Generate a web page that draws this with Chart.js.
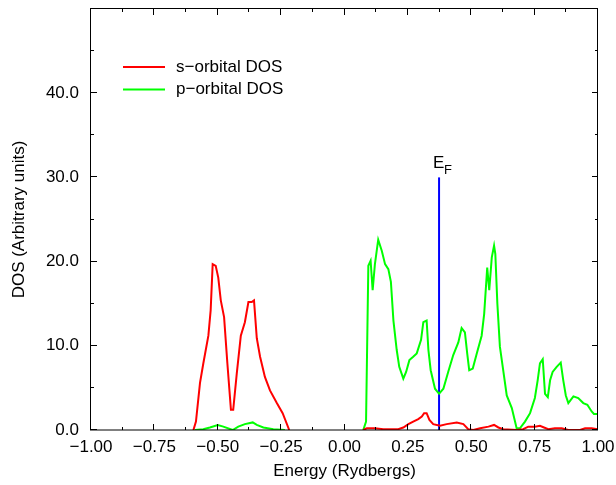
<!DOCTYPE html>
<html>
<head>
<meta charset="utf-8">
<script src="https://cdn.jsdelivr.net/npm/chart.js@4"></script>
<style>
  body { margin: 0; background: #fff; }
</style>
</head>
<body>
<canvas id="myChart" width="616" height="485"></canvas>
<script>
// s-orbital DOS (null marks the gap where the curve sits on the axis)
const sEnergy = [-0.596, -0.586, -0.570, -0.557, -0.537, -0.528, -0.520, -0.508, -0.498, -0.488,
  -0.475, -0.462, -0.448, -0.439, -0.425, -0.409, -0.393, -0.379, -0.366, -0.357,
  -0.346, -0.333, -0.314, -0.294, -0.267, -0.244, -0.218,
  -0.07,
  0.074, 0.088, 0.120, 0.153, 0.212, 0.232, 0.252, 0.271, 0.291, 0.305,
  0.314, 0.324, 0.335, 0.350, 0.377, 0.403, 0.443, 0.469, 0.488, 0.508,
  0.535, 0.568, 0.590, 0.607, 0.626, 0.679, 0.705, 0.725, 0.751, 0.771,
  0.787, 0.804, 0.830, 0.857, 0.883, 0.929, 0.949, 0.975, 0.999];
const sDos = [0, 1.0, 5.6, 7.9, 11.2, 14.2, 19.7, 19.5, 18.1, 15.4,
  13.4, 7.9, 2.4, 2.4, 6.7, 11.2, 12.8, 15.2, 15.2, 15.4,
  10.9, 8.7, 6.3, 4.7, 3.2, 2.0, 0,
  null,
  0, 0.2, 0.2, 0.1, 0.1, 0.3, 0.7, 1.0, 1.3, 1.6,
  2.0, 2.0, 1.2, 0.7, 0.5, 0.7, 0.9, 0.7, 0.1, 0,
  0.2, 0.4, 0.6, 0.3, 0.1, 0, 0.1, 0.4, 0.4, 0.5,
  0.3, 0.1, 0.2, 0.2, 0, 0, 0.2, 0.2, 0.1];

// p-orbital DOS
const pEnergy = [-0.590, -0.557, -0.531, -0.500, -0.478, -0.441, -0.419, -0.393, -0.362, -0.346,
  -0.320, -0.281, -0.235,
  -0.07,
  0.074, 0.085, 0.094, 0.103, 0.111, 0.120, 0.133, 0.147, 0.160, 0.173,
  0.183, 0.193, 0.206, 0.216, 0.232, 0.243, 0.256, 0.271, 0.285, 0.302,
  0.311, 0.324, 0.331, 0.340, 0.357, 0.373, 0.390, 0.409, 0.429, 0.449,
  0.462, 0.475, 0.484, 0.492, 0.506, 0.521, 0.541, 0.551, 0.563, 0.571,
  0.581, 0.590, 0.595, 0.603, 0.613, 0.626, 0.640, 0.660, 0.679, 0.692,
  0.712, 0.732, 0.751, 0.762, 0.771, 0.782, 0.791, 0.802, 0.811, 0.821,
  0.837, 0.853, 0.863, 0.873, 0.883, 0.903, 0.922, 0.942, 0.958, 0.975,
  0.984, 0.999];
const pDos = [0, 0.1, 0.3, 0.6, 0.4, 0, 0.4, 0.7, 0.9, 0.6,
  0.3, 0.1, 0,
  null,
  0, 1.0, 19.5, 20.1, 16.6, 19.7, 22.6, 21.3, 19.7, 19.1,
  17.6, 13.0, 9.5, 7.5, 6.1, 6.9, 8.3, 8.7, 9.1, 10.7,
  12.8, 13.0, 9.5, 7.1, 4.9, 4.3, 4.9, 6.9, 8.9, 10.4,
  12.1, 11.6, 9.1, 7.1, 7.3, 9.0, 11.2, 13.8, 19.3, 16.6,
  20.5, 21.9, 20.9, 15.0, 9.9, 7.1, 4.1, 2.6, 0.2, 0.2,
  1.0, 2.0, 3.8, 5.9, 7.9, 8.4, 4.3, 3.9, 5.9, 6.9,
  7.5, 8.0, 5.9, 4.1, 3.2, 4.0, 3.8, 3.2, 3.0, 2.2,
  1.9, 1.9];

const fermiEnergy = 0.373;
const fermiTop = 30;

const seriesLabels = ["s\u2212orbital DOS", "p\u2212orbital DOS"];
const xTicks = [-1.00, -0.75, -0.50, -0.25, 0.00, 0.25, 0.50, 0.75, 1.00];
const yTicks = [0, 10, 20, 30, 40];

const FONT = "'Liberation Sans', Arial, Helvetica, sans-serif";

function toPoints(xs, ys) {
  let pts = [];
  xs.forEach((x, i) => pts.push({ x: x, y: ys[i] }));
  return pts;
}

function fmtX(v) {
  let s = Math.abs(v).toFixed(2);
  return v < -1e-9 ? "\u2212" + s : s;
}

function noPad(scale) {
  scale.paddingLeft = 0;
  scale.paddingRight = 0;
  scale.paddingTop = 0;
  scale.paddingBottom = 0;
}

// frame with inward ticks, legend and E_F label
const framePlugin = {
  id: "frame",
  afterDraw(chart) {
    const ctx = chart.ctx;
    const a = chart.chartArea;
    const xs = chart.scales.x;
    const ys = chart.scales.y;
    ctx.save();
    ctx.strokeStyle = "#000";
    ctx.lineWidth = 1;
    ctx.strokeRect(a.left - 0.5, a.top - 0.5, a.right - a.left, a.bottom - a.top + 0.5);

    ctx.beginPath();
    for (let i = 0; i <= 16; i++) {
      let v = -1 + i * 0.125;
      let px = Math.round(xs.getPixelForValue(v)) - 0.5;
      let len = i % 2 === 0 ? 6 : 3;
      ctx.moveTo(px, a.bottom);
      ctx.lineTo(px, a.bottom - len);
      ctx.moveTo(px, a.top);
      ctx.lineTo(px, a.top + len);
    }
    for (let i = 0; i <= 10; i++) {
      let v = i * 5;
      let py = Math.round(ys.getPixelForValue(v)) - 0.5;
      let len = i % 2 === 0 ? 6 : 3;
      ctx.moveTo(a.left, py);
      ctx.lineTo(a.left + len, py);
      ctx.moveTo(a.right, py);
      ctx.lineTo(a.right - len, py);
    }
    ctx.stroke();

    // legend
    ctx.font = "17px " + FONT;
    ctx.textBaseline = "middle";
    ctx.fillStyle = "#000";
    [0, 1].forEach((i) => {
      let ds = chart.data.datasets[i];
      let y = 67 + i * 22.5;
      ctx.strokeStyle = ds.borderColor;
      ctx.lineWidth = 2;
      ctx.beginPath();
      ctx.moveTo(123, y);
      ctx.lineTo(165, y);
      ctx.stroke();
      ctx.fillText(ds.label, 176, y);
    });

    // E_F
    let fx = xs.getPixelForValue(fermiEnergy);
    let fy = ys.getPixelForValue(fermiTop);
    ctx.textBaseline = "alphabetic";
    ctx.font = "17px " + FONT;
    ctx.fillText("E", fx - 6, fy - 9.5);
    ctx.font = "13px " + FONT;
    ctx.fillText("F", fx + 5, fy - 3);
    ctx.restore();
  },
};

const chart = new Chart(document.getElementById("myChart"), {
  type: "line",
  data: {
    datasets: [
      {
        label: seriesLabels[0],
        data: toPoints(sEnergy, sDos),
        borderColor: "#ff0000",
        borderWidth: 2,
        pointRadius: 0,
        tension: 0,
        spanGaps: false,
      },
      {
        label: seriesLabels[1],
        data: toPoints(pEnergy, pDos),
        borderColor: "#00ff00",
        borderWidth: 2,
        pointRadius: 0,
        tension: 0,
        spanGaps: false,
      },
      {
        label: "E_F",
        data: [{ x: fermiEnergy, y: 0 }, { x: fermiEnergy, y: fermiTop }],
        borderColor: "#0000ff",
        borderWidth: 2,
        pointRadius: 0,
      },
    ],
  },
  options: {
    responsive: false,
    animation: false,
    layout: { padding: { top: 9, right: 18, left: 0, bottom: 0 } },
    plugins: {
      legend: { display: false },
      tooltip: { enabled: false },
    },
    scales: {
      x: {
        type: "linear",
        min: -1,
        max: 1,
        grid: { display: false, drawTicks: false },
        border: { display: false },
        afterFit: (scale) => { scale.height = 55; noPad(scale); },
        afterBuildTicks: (scale) => { scale.ticks = xTicks.map((v) => ({ value: v })); },
        ticks: {
          autoSkip: false,
          maxRotation: 0,
          padding: 7,
          color: "#000",
          font: { family: FONT, size: 17 },
          callback: (v) => fmtX(v),
        },
        title: {
          display: true,
          text: "Energy (Rydbergs)",
          color: "#000",
          font: { family: FONT, size: 17 },
          padding: { top: 0, bottom: 3 },
        },
      },
      y: {
        min: 0,
        max: 50,
        grid: { display: false, drawTicks: false },
        border: { display: false },
        afterFit: (scale) => { scale.width = 91; noPad(scale); },
        afterBuildTicks: (scale) => { scale.ticks = yTicks.map((v) => ({ value: v })); },
        ticks: {
          padding: 12,
          color: "#000",
          font: { family: FONT, size: 17 },
          callback: (v) => v.toFixed(1),
        },
        title: {
          display: true,
          text: "DOS (Arbitrary units)",
          color: "#000",
          font: { family: FONT, size: 17 },
          padding: { top: 9, bottom: 0 },
        },
      },
    },
  },
  plugins: [framePlugin],
});
</script>
</body>
</html>
